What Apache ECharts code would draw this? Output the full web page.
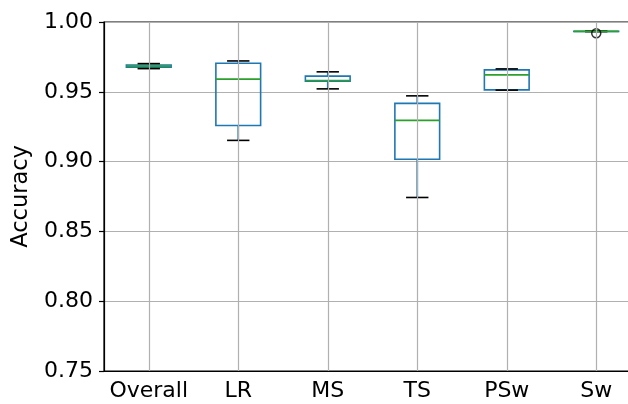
<!DOCTYPE html>
<html>
<head>
<meta charset="utf-8">
<script src="https://cdn.jsdelivr.net/npm/echarts@6/dist/echarts.min.js"></script>
<style>html,body{margin:0;padding:0;background:#fff;}#c{width:628px;height:404px;}</style>
</head>
<body>
<div id="c"></div>
<script>
const categories = ['Overall', 'LR', 'MS', 'TS', 'PSw', 'Sw'];
const lowerWhisker = [0.9666, 0.9152, 0.9521, 0.8743, 0.9512, 0.9931];
const q1 =           [0.9677, 0.9259, 0.9576, 0.9017, 0.9514, 0.9932];
const median =       [0.9684, 0.9591, 0.9581, 0.9295, 0.9621, 0.9933];
const q3 =           [0.9692, 0.9705, 0.9612, 0.9417, 0.9657, 0.9934];
const upperWhisker = [0.9702, 0.9721, 0.9643, 0.9471, 0.9664, 0.9935];
const outliers = [['Sw', 0.9919]];
const yTicks = [0.75, 0.80, 0.85, 0.90, 0.95, 1.00];

const FONT = 'DejaVu Sans';
const boxData = categories.map((c, i) => [i, lowerWhisker[i], q1[i], median[i], q3[i], upperWhisker[i]]);

const chart = echarts.init(document.getElementById('c'));
chart.setOption({
  animation: false,
  backgroundColor: '#fff',
  grid: { left: 104, top: 22, width: 537, height: 349, outerBoundsMode: 'none', containLabel: false, show: true, borderColor: '#000', borderWidth: 1.2, backgroundColor: 'transparent' },
  xAxis: {
    type: 'category',
    data: categories,
    boundaryGap: true,
    axisLine: { lineStyle: { color: '#000', width: 1.2 } },
    axisTick: { alignWithLabel: true, length: 5, lineStyle: { color: '#000', width: 1.2 } },
    axisLabel: { fontFamily: FONT, fontSize: 22, color: '#000', margin: 9, interval: 0 },
    splitLine: { show: false }
  },
  yAxis: {
    type: 'value',
    min: yTicks[0], max: yTicks[yTicks.length - 1], interval: 0.05,
    name: 'Accuracy',
    nameLocation: 'middle',
    nameGap: 63,
    nameTextStyle: { fontFamily: FONT, fontSize: 22.5, color: '#000' },
    axisLine: { show: true, lineStyle: { color: '#000', width: 1.2 } },
    axisTick: { show: true, length: 5, lineStyle: { color: '#000', width: 1.2 } },
    axisLabel: { fontFamily: FONT, fontSize: 22, color: '#000', margin: 11, formatter: v => v.toFixed(2) },
    splitLine: { show: true, lineStyle: { color: '#b0b0b0', width: 1.2 } }
  },
  series: [
    {
      type: 'line', data: [], z: 1, silent: true,
      markLine: {
        silent: true, symbol: ['none', 'none'], label: { show: false }, animation: false,
        lineStyle: { color: '#b0b0b0', width: 1.2, type: 'solid' },
        emphasis: { disabled: true },
        data: categories.map(c => ({ xAxis: c }))
      }
    },
    {
      type: 'custom', z: 3, silent: true,
      data: boxData,
      encode: { x: 0, y: [1, 2, 3, 4, 5] },
      renderItem: function (params, api) {
        const i = api.value(0);
        const band = api.size([1, 0])[0];
        const bw = band * 0.5, cw = band * 0.25;
        const x = api.coord([i, api.value(3)])[0];
        const Y = v => api.coord([i, v])[1];
        const yl = Y(api.value(1)), y1 = Y(api.value(2)), ym = Y(api.value(3)), y3 = Y(api.value(4)), yu = Y(api.value(5));
        const blue = { stroke: '#1f77b4', lineWidth: 1.7, fill: null };
        return {
          type: 'group',
          children: [
            { type: 'line', shape: { x1: x, y1: y1, x2: x, y2: yl }, style: blue },
            { type: 'line', shape: { x1: x, y1: y3, x2: x, y2: yu }, style: blue },
            { type: 'rect', shape: { x: x - bw / 2, y: y3, width: bw, height: y1 - y3 }, style: { stroke: '#1f77b4', lineWidth: 1.6, fill: null } },
            { type: 'line', shape: { x1: x - cw / 2, y1: yl, x2: x + cw / 2, y2: yl }, style: { stroke: '#000', lineWidth: 1.6 } },
            { type: 'line', shape: { x1: x - cw / 2, y1: yu, x2: x + cw / 2, y2: yu }, style: { stroke: '#000', lineWidth: 1.6 } },
            { type: 'line', shape: { x1: x - bw / 2, y1: ym, x2: x + bw / 2, y2: ym }, style: { stroke: '#2ca02c', lineWidth: 1.6 } }
          ]
        };
      }
    },
    {
      type: 'scatter', z: 4, silent: true,
      data: outliers,
      symbol: 'circle', symbolSize: 9,
      itemStyle: { color: 'rgba(0,0,0,0)', borderColor: '#000', borderWidth: 1.5 }
    }
  ]
});
</script>
</body>
</html>
